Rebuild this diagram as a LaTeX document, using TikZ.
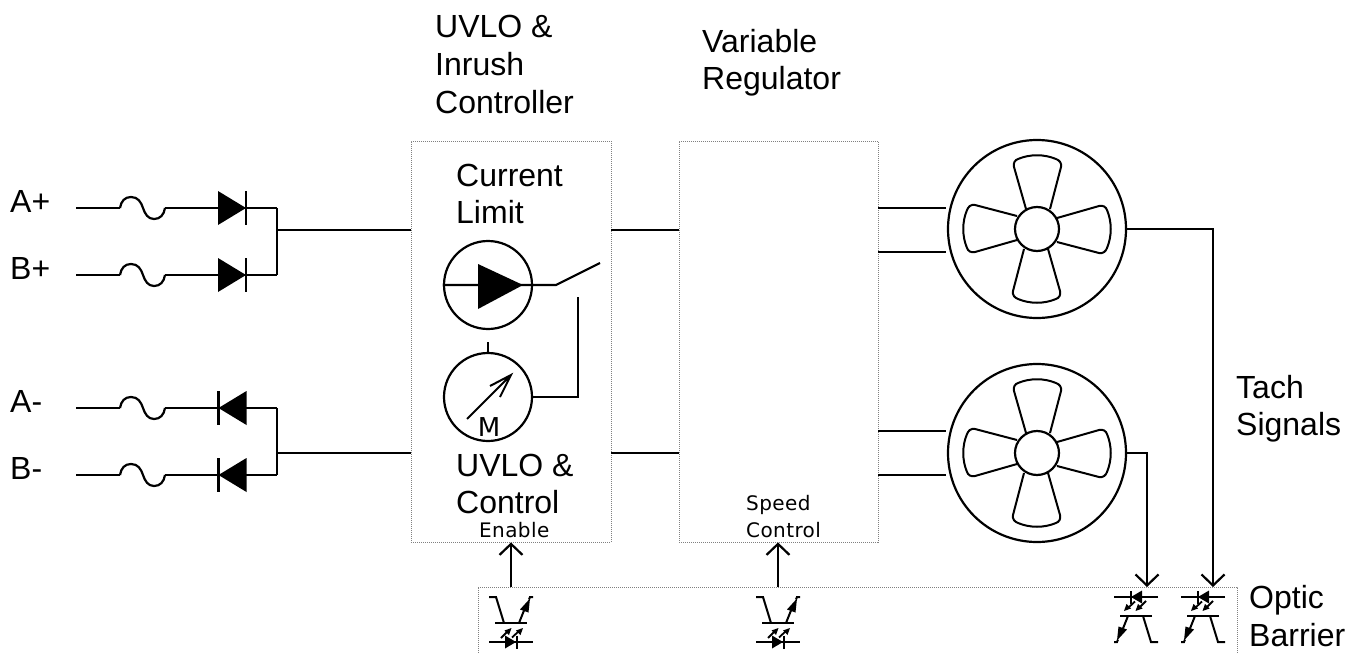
\documentclass[tikz,border=0pt]{standalone}
\usepackage{fontspec}
\setmainfont{Liberation Sans}
\newfontfamily\cadfont[LetterSpace=2]{DejaVu Sans}
\usetikzlibrary{arrows.meta,calc}
\tikzset{
  wire/.style={line width=2.2pt,line join=miter},
  panel/.style={draw=black!50,line width=0.8pt,dash pattern=on 1pt off 1pt,fill=none,inner sep=0},
  label/.style={anchor=base west,inner sep=0,font=\fontsize{32}{34}\selectfont},
  cad/.style={anchor=base west,inner sep=0,font=\cadfont\fontsize{20}{22}\selectfont},
  ring/.style={circle,draw,line width=2.2pt,inner sep=0},
  sig/.style={wire,-{Straight Barb[length=11pt,width=23pt,line width=2.2pt]}}
}
\newcommand{\fusepath}[2]{%
  \draw[wire] (#1) -- ++(44,0);
  \begin{scope}[shift={(#1)}]
  \draw[wire] (44,0)
    .. controls (45,-7) and (49,-11) .. (55,-11)
    .. controls (62,-11) and (65,-6) .. (67,0)
    .. controls (69,6) and (72,11) .. (78,11)
    .. controls (84,11) and (88,7) .. (89,0);
  \draw[wire] (89,0) -- (#2);
  \end{scope}}
\newcommand{\diodeR}[1]{%
  \begin{scope}[shift={(#1)}]
    \fill (-28,-17) -- (0,0) -- (-28,17) -- cycle;
    \draw[wire] (0,-17) -- (0,17);
  \end{scope}}
\newcommand{\diodeL}[1]{%
  \begin{scope}[shift={(#1)}]
    \fill (28,-17) -- (0,0) -- (28,17) -- cycle;
    \draw[wire] (0,-17) -- (0,17);
  \end{scope}}
\newcommand{\fanblades}[1]{%
  \foreach \a in {0,90,180,270}{
    \begin{scope}[shift={(#1)},rotate=\a]
      \draw[line width=2pt,line join=round] (-11,-20) -- (-23,-62)
        .. controls (-24,-66) and (-22,-69) .. (-19,-70)
        .. controls (-7,-75) and (7,-75) .. (19,-70)
        .. controls (22,-69) and (25,-66) .. (24,-62)
        -- (13,-20);
    \end{scope}}}
\newcommand{\opto}[2]{%
  \begin{scope}[shift={(#1)},rotate=#2]
    \draw[line width=2pt] (-22,-22.5) -- (-15,-22.5) -- (-7,3.5);
    \draw[line width=2.2pt] (-16,3.5) -- (16,3.5);
    \draw[line width=2pt] (8,3.5) -- (13,-9);
    \draw[line width=2pt] (18,-20) -- (19,-22.5) -- (22,-22.5);
    \fill (19,-21) -- (17.5,-7) -- (9,-10) -- cycle;
    \draw[line width=2pt] (-22,22.5) -- (22,22.5);
    \fill (-6,16) -- (5,22.5) -- (-6,29) -- cycle;
    \draw[line width=2pt] (5.5,16) -- (5.5,29);
    \draw[line width=1.8pt] (-10,18.5) -- (-3,11.5);
    \fill (0.5,8.5) -- (-2,15.5) -- (-6.5,11) -- cycle;
    \draw[line width=1.8pt] (1,18) -- (8,11.5);
    \fill (12,8.5) -- (9.5,15.5) -- (5,11) -- cycle;
  \end{scope}}
\begin{document}
\begin{tikzpicture}[x=1pt,y=-1pt]
\useasboundingbox (0,0) rectangle (1353,653);
% panels
\node[panel,minimum width=200pt,minimum height=401pt] (box1) at (511,341.5) {};
\node[panel,minimum width=199pt,minimum height=401pt] (box2) at (778.5,341.5) {};
\coordinate (optoTL) at (478,653);
\coordinate (optoTR) at (1237,653);
\coordinate (optoA) at (478,587);
\coordinate (optoB) at (1237,587);
\draw[draw=black!50,line width=0.8pt,dash pattern=on 1pt off 1pt] (optoTL) -- (optoA) -- (optoB) -- (optoTR);
% inputs
\coordinate (ap) at (76,208);
\coordinate (bp) at (76,275);
\coordinate (am) at (76,408);
\coordinate (bm) at (76,475);
\coordinate (apj) at (277,208);
\coordinate (bpj) at (277,275);
\coordinate (amj) at (277,408);
\coordinate (bmj) at (277,475);
\coordinate (pj) at (277,230);
\coordinate (mj) at (277,453);
\fusepath{ap}{apj}
\fusepath{bp}{bpj}
\fusepath{am}{amj}
\fusepath{bm}{bmj}
\diodeR{246,208}
\diodeR{246,275}
\diodeL{218.5,408}
\diodeL{218.5,475}
\draw[wire] (apj) -- (bpj);
\draw[wire] (amj) -- (bmj);
\draw[wire] (pj) -- (pj -| box1.west);
\draw[wire] (mj) -- (mj -| box1.west);
\draw[wire] (box1.east |- pj) -- (box2.west |- pj);
\draw[wire] (box1.east |- mj) -- (box2.west |- mj);
% current limit
\node[ring,minimum size=88pt] (src) at (488,285) {};
\fill (478,264) -- (523,285) -- (478,309) -- cycle;
\coordinate (swa) at (556,285);
\coordinate (swb) at (600,263);
\draw[wire] (src.west) -- (swa) -- (swb);
\node[ring,minimum size=88pt] (mtr) at (488,397) {};
\coordinate (mtick) at (488,342);
\draw[wire] (mtick) -- (mtr.north);
\coordinate (swc) at (578,297);
\coordinate (swd) at (578,397);
\draw[wire] (swc) -- (swd) -- (mtr.east);
\coordinate (ma) at (467,419);
\coordinate (mb) at (511,375);
\draw[line width=2pt] (ma) -- (mb) (490,386) -- (mb) -- (500,397);
\node[anchor=base,inner sep=0,font=\cadfont\fontsize{26}{28}\selectfont] (mlab) at (489,436) {M};
% fans
\node[ring,minimum size=178pt] (fan1) at (1037,229) {};
\node[ring,minimum size=44pt] (hub1) at (1037,229) {};
\fanblades{1037,229}
\node[ring,minimum size=178pt] (fan2) at (1037,453) {};
\node[ring,minimum size=44pt] (hub2) at (1037,453) {};
\fanblades{1037,453}
\foreach \y/\f in {208/1,252/1,431/2,475/2}
  \draw[wire] (box2.east |- 0,\y) -- (946,\y);
% tach
\coordinate (t1) at (1213,229);
\coordinate (t1e) at (1213,587);
\coordinate (t2) at (1147,453);
\coordinate (t2e) at (1147,587);
\draw[sig] (fan1.east) -- (t1) -- (t1e);
\draw[sig] (fan2.east) -- (t2) -- (t2e);
% enable
\coordinate (en) at (511,587);
\coordinate (sp) at (778,587);
\draw[sig] (en) -- (en |- box1.south);
\draw[sig] (sp) -- (sp |- box2.south);
\opto{511,619.5}{0}
\opto{778,619.5}{0}
\opto{1136,619.5}{180}
\opto{1203,619.5}{180}
% labels
\node[label] (l1) at (435,37) {UVLO \&};
\node[label] (l2) at (435,75) {Inrush};
\node[label] (l3) at (435,113) {Controller};
\node[label] (l4) at (702,52) {Variable};
\node[label] (l5) at (702,89) {Regulator};
\node[label] (l6) at (456,186) {Current};
\node[label] (l7) at (456,223) {Limit};
\node[label] (l8) at (456,476) {UVLO \&};
\node[label] (l9) at (456,513) {Control};
\node[label] (la) at (10,212) {A+};
\node[label] (lb) at (10,279) {B+};
\node[label] (lc) at (10,412) {A-};
\node[label] (ld) at (10,479) {B-};
\node[label] (le) at (1236,398) {Tach};
\node[label] (lf) at (1236,435) {Signals};
\node[label] (lg) at (1249,608) {Optic};
\node[label] (lh) at (1249,646) {Barrier};
\node[cad] (e1) at (479,537) {Enable};
\node[cad] (s1) at (746,510) {Speed};
\node[cad] (s2) at (746,537) {Control};
\end{tikzpicture}
\end{document}
